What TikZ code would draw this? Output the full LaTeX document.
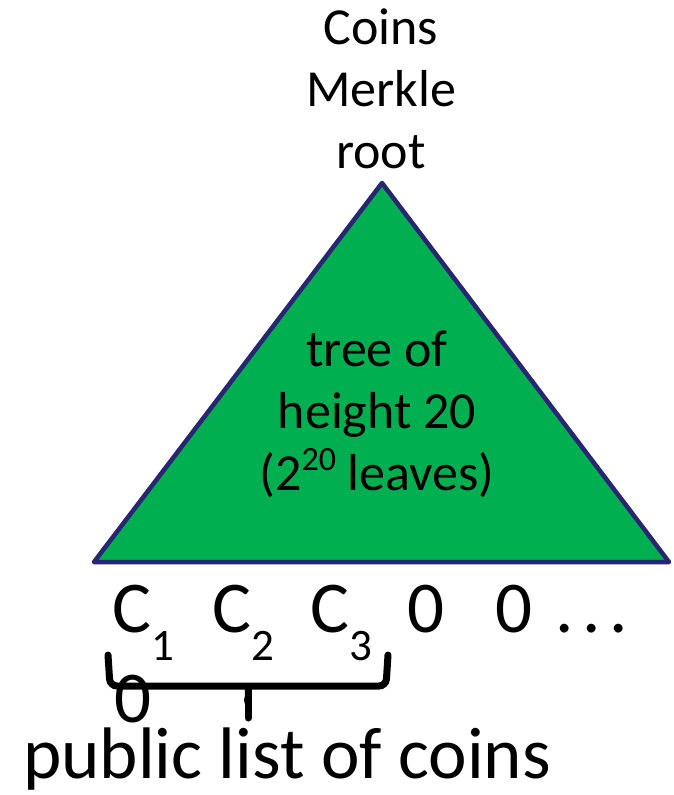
\documentclass[tikz,border=0pt]{standalone}
\usepackage{fontspec}
\setmainfont{Carlito}
\usetikzlibrary{positioning}
\definecolor{treegreen}{HTML}{00B050}
\definecolor{treeedge}{HTML}{262673}
\newcommand\leafsub[1]{\raisebox{-28pt}{\fontsize{45}{45}\selectfont #1}}
\newcommand\treeexp[1]{\raisebox{20pt}{\fontsize{34}{34}\selectfont #1}}

\begin{document}
\begin{tikzpicture}[
  x=1pt, y=-1pt,
  lbl/.style={inner sep=0pt, align=center, font=\fontsize{52}{62}\selectfont},
  leaf/.style={inner sep=0pt, anchor=base west, font=\fontsize{73}{80}\selectfont},
  tree/.style={draw=treeedge, fill=treegreen, line width=4.5pt, line join=round},
  brace/.style={line width=7pt, line cap=round, rounded corners=7pt}
]
\useasboundingbox (0,0) rectangle (674,795);

% ---------------- tree ----------------
\coordinate (apex) at (382,183);
\coordinate (bl) at (94,562);
\coordinate (br) at (669,562);
\draw[tree] (apex) -- (br) -- (bl) -- cycle;

% base anchor sits on the last line
\node[lbl, anchor=base] (rootlab) at (381,168) {Coins\\Merkle\\root};
\node[lbl, anchor=base] (treelab) at (377,490)
  {tree of\\height 20\\(2\treeexp{20} leaves)};

% ---------------- leaves ----------------
\node[leaf] (c1) at (112,632) {C\leafsub{1}};
\node[leaf] (c2) at (212,632) {C\leafsub{2}};
\node[leaf] (c3) at (310,632) {C\leafsub{3}};
\node[leaf] (z1) at (407,632) {0};
\node[leaf] (z2) at (495,632) {0};
\node[leaf] (dots) at (555,632) {.\kern9pt.\kern9pt.};

% ---------------- brace ----------------
\coordinate (bracel) at (108,655);
\coordinate (bracer) at (388,655);
\coordinate (bracetip) at (248,718);
\draw[brace] (bracel) -- (110,686) -- (386,686) -- (bracer);
\fill (238,684) .. controls (246,686) and (246,692) .. (244,700)
  -- (bracetip) -- (252,700) .. controls (250,692) and (250,686) .. (258,684) -- cycle;
\draw[line width=7pt, line cap=round] (248,690) -- (bracetip);

\node[leaf] (zstray) at (114,722) {0};
\node[leaf] (listlab) at (23,778) {public list of coins};

\end{tikzpicture}
\end{document}
